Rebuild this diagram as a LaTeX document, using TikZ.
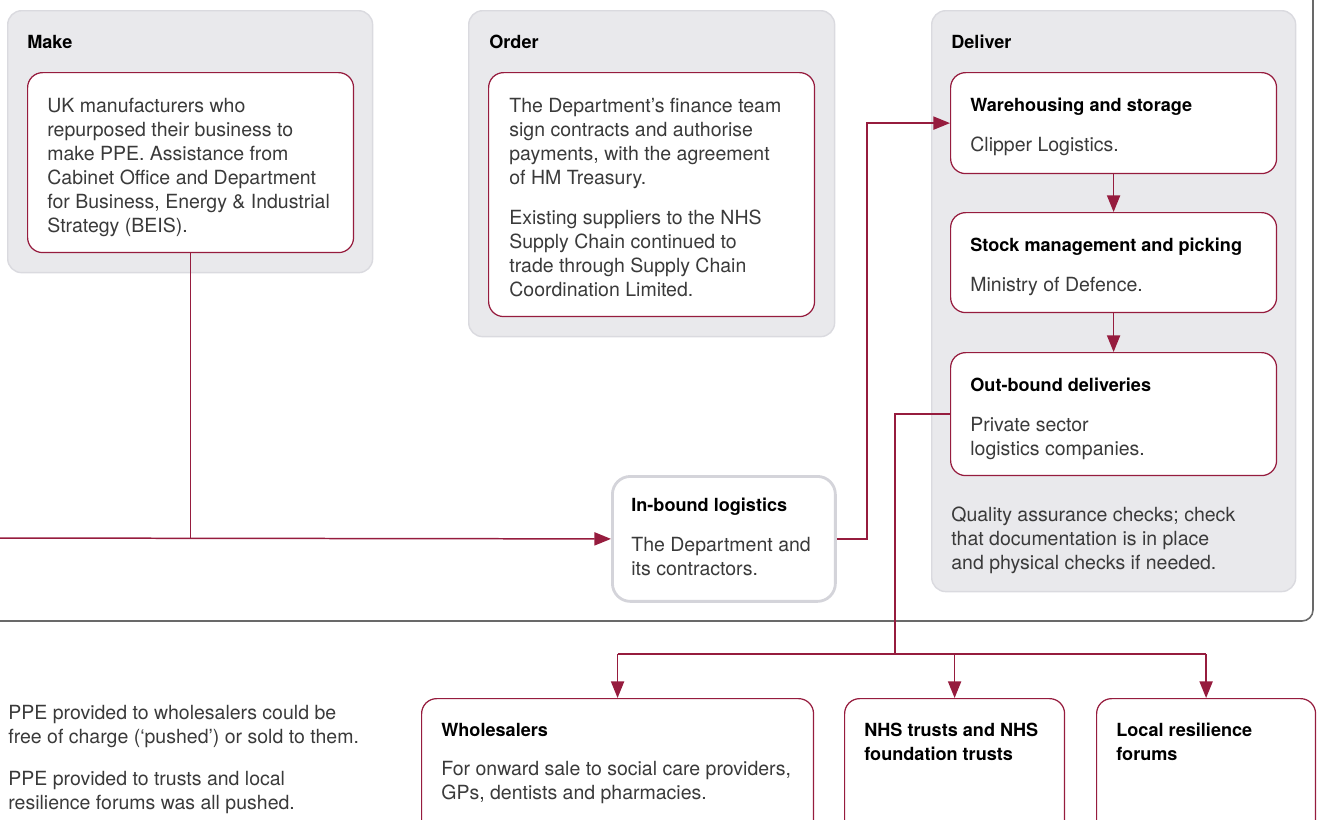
\documentclass[tikz,border=0pt]{standalone}
\usepackage{fontspec}
\setmainfont{TeX Gyre Heros}
\usepackage{xcolor}
\usetikzlibrary{positioning}
\usetikzlibrary{arrows.meta}

\definecolor{crim}{RGB}{150,28,62}
\definecolor{panelgray}{RGB}{233,233,236}
\definecolor{panelline}{RGB}{218,218,223}
\definecolor{inline}{RGB}{212,212,218}
\definecolor{framegray}{RGB}{105,105,105}
\definecolor{bodygray}{RGB}{58,58,58}

\tikzset{
panel/.style={draw=panelline, fill=panelgray, line width=0.8pt, rounded corners=0.28cm, anchor=north west, inner sep=0pt},
card/.style={draw=crim, fill=white, line width=0.7pt, rounded corners=0.3cm, anchor=north west, inner sep=0pt},
inbox/.style={draw=inline, fill=white, line width=1.6pt, rounded corners=0.36cm, anchor=north west, inner sep=0pt},
head/.style={anchor=north west, inner sep=0pt, align=left, font=\bfseries\fontsize{10.3pt}{13.66pt}\selectfont, text=black},
body/.style={anchor=north west, inner sep=0pt, align=left, font=\fontsize{11.1pt}{13.66pt}\selectfont, text=bodygray},
link/.style={draw=crim, line width=0.85pt},
arr/.style={-{Triangle[length=9.5pt,width=7.5pt]}},
outline/.style={draw=framegray, line width=0.9pt, rounded corners=0.22cm}
}

\begin{document}
\begin{tikzpicture}[x=0.02cm, y=-0.02cm]

\clip (0,0) rectangle (1317,819);

% outer frame
\draw[outline] (1313,-20) -- (1313,621) -- (-20,621);

% Make
{
\node[panel, minimum width=7.30cm, minimum height=5.24cm] (make) at (7,10) {};
\node[head] (makehead) at (27,35) {Make};
\node[card, minimum width=6.52cm, minimum height=3.60cm] (makecard) at (27,72) {};
\node[body] (maketext) at (47,98)
{UK manufacturers who\\ repurposed their business to\\ make PPE. Assistance from\\ Cabinet Office and Department\\ for Business, Energy \& Industrial\\ Strategy (BEIS).};
}

% Order
{
\node[panel, minimum width=7.32cm, minimum height=6.52cm] (order) at (468,10) {};
\node[head] (orderhead) at (489,35) {Order};
\node[card, minimum width=6.52cm, minimum height=4.88cm] (ordercard) at (488,72) {};
\node[body] (ordertext) at (509,98)
{The Department’s finance team\\ sign contracts and authorise\\ payments, with the agreement\\ of HM Treasury.\\[0.32cm] Existing suppliers to the NHS\\ Supply Chain continued to\\ trade through Supply Chain\\ Coordination Limited.};
}

% Deliver
{
\node[panel, minimum width=7.28cm, minimum height=11.62cm] (deliver) at (931,10) {};
\node[head] (deliverhead) at (951,35) {Deliver};

\node[card, minimum width=6.52cm, minimum height=2.02cm] (store) at (950,72) {};
\node[head] (storehead) at (970,98) {Warehousing and storage};
\node[body] (storetext) at (970,137) {Clipper Logistics.};

\node[card, minimum width=6.52cm, minimum height=2.00cm] (stock) at (950,212) {};
\node[head] (stockhead) at (970,238) {Stock management and picking};
\node[body] (stocktext) at (970,277) {Ministry of Defence.};

\node[card, minimum width=6.52cm, minimum height=2.46cm] (outbound) at (950,352) {};
\node[head] (outboundhead) at (970,378) {Out-bound deliveries};
\node[body] (outboundtext) at (970,417) {Private sector\\ logistics companies.};

\node[body] (quality) at (951,507)
{Quality assurance checks; check\\ that documentation is in place\\ and physical checks if needed.};
}

% In-bound logistics
\node[inbox, minimum width=4.46cm, minimum height=2.50cm] (inbound) at (611,475) {};
\node[head] (inboundhead) at (631,498) {In-bound logistics};
\node[body] (inboundtext) at (631,537) {The Department and\\ its contractors.};

% receivers
\node[card, minimum width=7.84cm, minimum height=2.80cm] (wholesale) at (421,698) {};
\node[head] (wholesalehead) at (441,723) {Wholesalers};
\node[body] (wholesaletext) at (441,761)
{For onward sale to social care providers,\\ GPs, dentists and pharmacies.};

\node[card, minimum width=4.40cm, minimum height=2.80cm] (nhs) at (844,698) {};
\node[head] (nhshead) at (864,723) {NHS trusts and NHS\\ foundation trusts};

\node[card, minimum width=4.38cm, minimum height=2.80cm] (lrf) at (1096,698) {};
\node[head] (lrfhead) at (1116,723) {Local resilience\\ forums};

% note
\node[body] (note) at (8,705)
{PPE provided to wholesalers could be\\ free of charge (‘pushed’) or sold to them.\\[0.36cm] PPE provided to trusts and local\\ resilience forums was all pushed.};

% connectors
\coordinate (feed) at (-10,538);
\coordinate (split) at (895,654);

\draw[link] (makecard.south) -- (makecard.south |- inbound.west);
\draw[link, arr] (feed) -- (inbound.west);
\draw[link, arr] (inbound.east) -- ++(30,0) |- (store.west);
\draw[link, arr] (store.south) -- (stock.north);
\draw[link, arr] (stock.south) -- (outbound.north);
\draw[link] (outbound.west) -| (split);
\draw[link] (wholesale.north |- split) -- (lrf.north |- split);
\foreach \dest in {wholesale, nhs, lrf}
{
\draw[link, arr] (\dest.north |- split) -- (\dest.north);
}

\end{tikzpicture}
\end{document}
